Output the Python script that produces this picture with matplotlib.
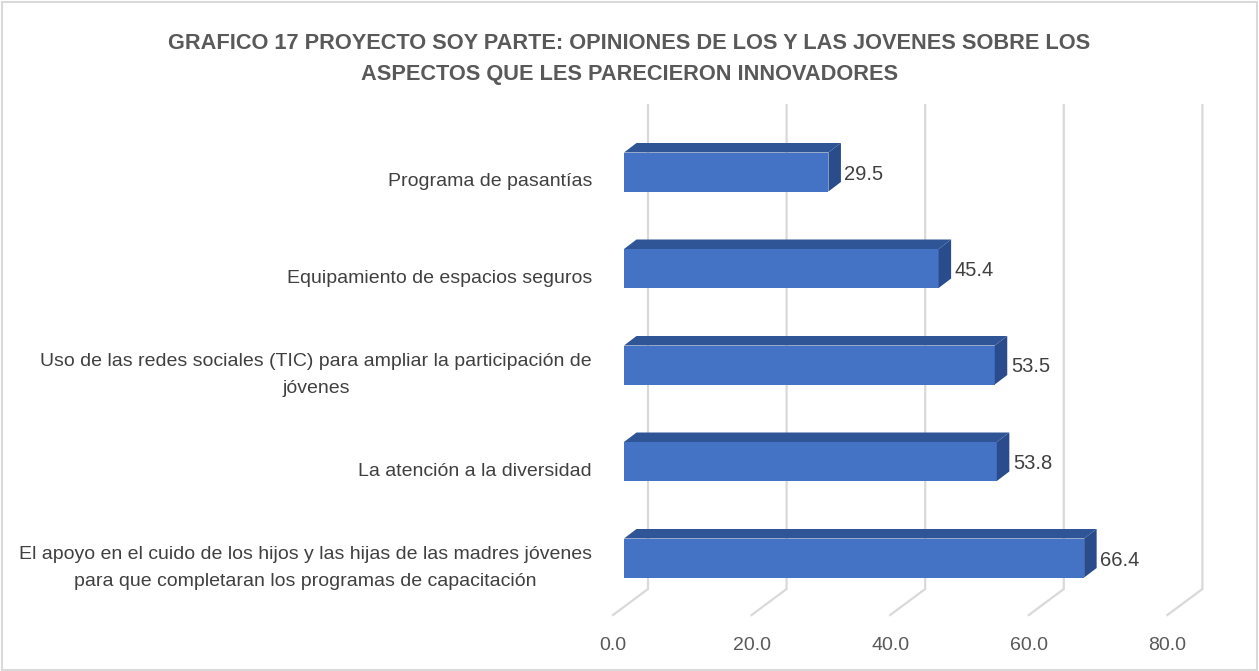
import matplotlib
matplotlib.use("Agg")
import matplotlib.pyplot as plt
from matplotlib.patches import Polygon, Rectangle

plt.rcParams['font.family'] = ['Liberation Sans', 'DejaVu Sans']

# data (top to bottom as shown)
categories = [
    "Programa de pasantías",
    "Equipamiento de espacios seguros",
    "Uso de las redes sociales (TIC) para ampliar la participación de\njóvenes",
    "La atención a la diversidad",
    "El apoyo en el cuido de los hijos y las hijas de las madres jóvenes\npara que completaran los programas de capacitación",
]
values = [29.5, 45.4, 53.5, 53.8, 66.4]
ticks = [0, 20, 40, 60, 80]
title = ("GRAFICO 17 PROYECTO SOY PARTE: OPINIONES DE LOS Y LAS JOVENES SOBRE LOS\n"
         "ASPECTOS QUE LES PARECIERON INNOVADORES")

W, H = 1259, 671
fig = plt.figure(figsize=(W / 100, H / 100), dpi=100)
ax = fig.add_axes([0, 0, 1, 1])

# pixel geometry of the pseudo-3D layout
px_unit = 6.93          # pixels per value unit
x0_px = 624             # value 0 on the bar front plane
y0_px = 172             # centre of first bar
step_px = 96.5          # distance between bars
ax.set_xlim(-x0_px / px_unit, (W - x0_px) / px_unit)
ax.set_ylim((H - y0_px) / step_px, -y0_px / step_px)
ax.axis('off')

def ux(px):
    return px / px_unit

def uy(px):
    return px / step_px

front = '#4472C4'
top = '#2F5597'
side = '#2B4C8C'
grid = '#D9D9D9'

# gridlines: back wall vertical + floor diagonal
g_top = uy(105 - y0_px)
g_bot = uy(589 - y0_px)
g_front = uy(615 - y0_px)
for t in ticks:
    xb = t + ux(24)
    xf = t + ux(-11)
    ax.plot([xb, xb, xf], [g_top, g_bot, g_front], color=grid, lw=1.6,
            solid_joinstyle='miter', zorder=1)
    ax.text(xf, uy(646 - y0_px), f"{t:.1f}", ha='center', va='center',
            fontsize=14, color='#595959')

# bars
h = uy(19.5)
dx = ux(12.5)
dy = uy(-9.5)
for i, (cat, v) in enumerate(zip(categories, values)):
    yt, yb = i - h, i + h
    ax.add_patch(Rectangle((0, yt), v, 2 * h, facecolor=front, edgecolor='none', zorder=3))
    ax.add_patch(Polygon([(0, yt), (v, yt), (v + dx, yt + dy), (dx, yt + dy)],
                         closed=True, facecolor=top, edgecolor='none', zorder=3))
    ax.add_patch(Polygon([(v, yt), (v + dx, yt + dy), (v + dx, yb + dy), (v, yb)],
                         closed=True, facecolor=side, edgecolor='none', zorder=3))
    ax.text(v + ux(16), i + uy(2), f"{v:.1f}", ha='left', va='center',
            fontsize=14.5, color='#404040', zorder=4)
    ax.text(ux(-32), i + uy(10), cat, ha='right', va='center',
            multialignment='center', fontsize=14, color='#404040',
            linespacing=1.75, zorder=4)

fig.text(0.5, 1 - 59 / H, title, ha='center', va='center', fontsize=15.7,
         fontweight='bold', color='#595959', linespacing=1.62)

# chart border
fig.patches.append(Rectangle((2 / W, 1 / H), (W - 4) / W, (H - 3) / H,
                             transform=fig.transFigure, fill=False,
                             edgecolor=grid, lw=1.5))

fig.savefig('out.png', dpi=100)
